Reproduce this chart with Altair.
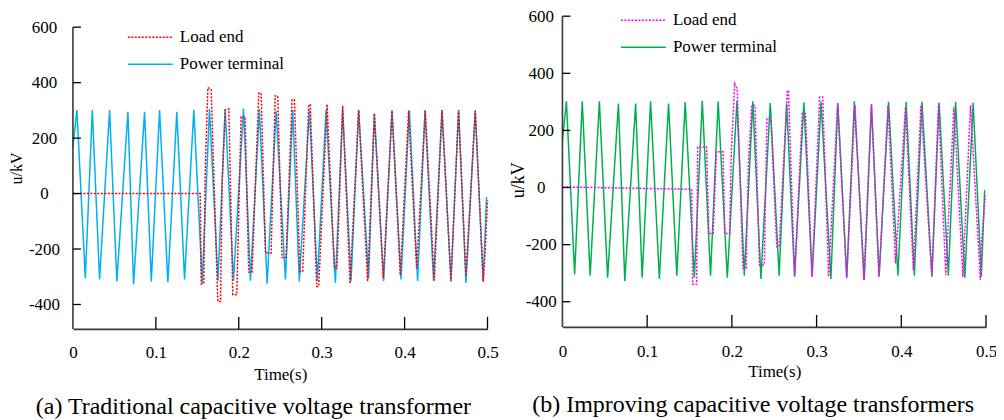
import altair as alt
import pandas as pd

LE = "Load end"
PT = "Power terminal"
FONT = "Liberation Serif"

# ---------------- (a) traditional CVT ----------------
a_pt_t = [0, .0048, .0149, .0234, .0321, .0442, .0530, .0663, .0731, .0864, .0945, .1045, .1145,
          .1253, .1346, .1458, .1559, .1647, .1750, .1836, .1936, .2057, .2141, .2249, .2342,
          .2451, .2563, .2651, .2730, .2852, .2948, .3053, .3165, .3253, .3354, .3446, .3566,
          .3635, .3747, .3848, .3957, .4057, .4157, .4246, .4349, .4451, .4559, .4651, .4740,
          .4852, .4948, .4988]
a_pt_v = [169, 301, -305, 301, -310, 301, -317, 295, -328, 295, -317, 301, -320,
          295, -310, 301, -322, 305, -315, 305, -314, 307, -314, 305, -325,
          298, -310, 301, -317, 301, -315, 301, -322, 298, -315, 301, -305,
          289, -315, 301, -310, 301, -315, 298, -315, 301, -315, 301, -322,
          301, -318, -12]

a_le_t = [0, .1535, .1547, .1578, .1595, .1627, .1667, .1747, .1780, .1800, .1836, .1880,
          .1928, .1976, .2028, .2076, .2120, .2161, .2241, .2270, .2322, .2390, .2439, .2470,
          .2523, .2571, .2643, .2671, .2739, .2771, .2843, .2863, .2940, .2964, .3065,
          .3153, .3185, .3253, .3342, .3446, .3554, .3635, .3743, .3848, .3948, .4048,
          .4145, .4249, .4358, .4451, .4559, .4651, .4740, .4852, .4948, .4972, .5000]
a_le_v = [0, 0, -325, -325, 72, 382, 375, -389, -389, 36, 301, 305,
          -365, -365, 277, 277, -283, -283, 362, 362, -214, -214, 352, 352,
          -231, -231, 338, 338, -281, -281, 320, 320, -335, -335, 322,
          -269, -269, 316, -325, 301, -317, 289, -305, 298, -295, 298,
          -271, 301, -313, 301, -317, 301, -298, 298, -317, -205, -24]

# ---------------- (b) improved CVT ----------------
b_pt_t = [0, .0047, .0144, .0234, .0327, .0436, .0533, .0661, .0736, .0864, .0941, .1040, .1144,
          .1253, .1350, .1449, .1557, .1651, .1748, .1838, .1946, .2060, .2147, .2247, .2343,
          .2453, .2558, .2647, .2740, .2850, .2947, .3053, .3169, .3251, .3356, .3446, .3563,
          .3648, .3738, .3850, .3960, .4057, .4154, .4244, .4361, .4446, .4556, .4641, .4750,
          .4848, .4945, .4984]
b_pt_v = [166, 302, -304, 302, -309, 302, -316, 294, -327, 294, -316, 302, -320,
          294, -309, 299, -316, 304, -309, 302, -316, 304, -309, 302, -320,
          296, -309, 294, -312, 298, -312, 300, -320, 296, -316, 302, -324,
          292, -312, 300, -309, 300, -309, 300, -312, 297, -309, 300, -316,
          297, -312, -9]

b_le_t = [0, .1526, .1537, .1584, .1596, .1701, .1729, .1779, .1818, .1896, .1916, .1974,
          .1993, .2033, .2063, .2130, .2168, .2196, .2235, .2273, .2325, .2383, .2414, .2460,
          .2530, .2558, .2655, .2667, .2741, .2831, .2869, .2947, .3037, .3072, .3142, .3248,
          .3356, .3453, .3558, .3648, .3738, .3843, .3932, .4049, .4142, .4232, .4361, .4439,
          .4525, .4621, .4727, .4817, .4933, .4945, .4992]
b_le_v = [2, -6, -339, -339, 142, 142, -161, -161, 125, 125, -161, -161,
          119, 364, 346, -283, -283, 90, 288, 288, -271, -271, 241, 241,
          -207, -207, 340, 340, -309, 259, 259, -312, 317, 317, -312, 294,
          -316, 288, -324, 288, -312, 288, -266, 282, -289, 288, -312, 294,
          -306, 282, -312, 288, -324, -201, -27]

y_ticks = [-400, -200, 0, 200, 400, 600]
x_ticks = [0, 0.1, 0.2, 0.3, 0.4, 0.5]
y_axis_span = [600, -488]
captions = ["(a) Traditional capacitive voltage transformer",
            "(b) Improving capacitive voltage transformers"]


def make_panel(pt_t, pt_v, le_t, le_v, le_color, pt_color, caption, g):
    w, h = g["w"], g["h"]
    pt_df = pd.DataFrame({"t": pt_t, "u": pt_v, "series": PT})
    le_df = pd.DataFrame({"t": le_t, "u": le_v, "series": LE})
    xs = alt.Scale(domain=[0, 0.5], nice=False, zero=False)
    ys = alt.Scale(domain=[-488, g["ytop"]], nice=False, zero=False)
    legend = alt.Legend(orient="none", legendX=g["lx"], legendY=g["ly"], title=None,
                        direction="vertical", symbolType="M-3,0H3", symbolSize=225,
                        symbolStrokeWidth=1.5, labelFont=FONT, labelFontSize=17,
                        labelColor="black", labelOffset=21, rowPadding=9, padding=0,
                        labelLimit=0)
    color = alt.Color("series:N", scale=alt.Scale(domain=[LE, PT], range=[le_color, pt_color]),
                      legend=legend)
    dash = alt.StrokeDash("series:N", scale=alt.Scale(domain=[LE, PT], range=[[2, 1.5], [1, 0]]),
                          legend=legend)
    xaxis = alt.Axis(values=x_ticks, labelExpr="datum.value == 0 ? '0' : format(datum.value, '.1f')",
                     ticks=False, tickSize=0, labelPadding=g["xlp"], labelFlush=False,
                     labelFontSize=17, domainColor="#3a3a3a", domainWidth=1.6,
                     title="Time(s)", titleFontSize=17, titlePadding=g["xtp"],
                     titleFontWeight="normal")
    yaxis = alt.Axis(values=y_ticks,
                     labelExpr="datum.value < 0 ? '-' + abs(datum.value) : '' + datum.value",
                     ticks=False, tickSize=0, labelPadding=g["ylp"], labelAlign="center",
                     labelFontSize=17, domain=False,
                     title="u/kV", titleFontSize=g["ytfs"], titleFontWeight="normal",
                     titleX=g["ytx"], titleY=g["yty"], titleAngle=270, titleBaseline="middle",
                     titleAlign="center")
    X = alt.X("t:Q", scale=xs, axis=xaxis)
    Y = alt.Y("u:Q", scale=ys, axis=yaxis)
    power = alt.Chart(pt_df).mark_line(strokeWidth=1.5).encode(
        x=X, y=Y, color=color, strokeDash=dash)
    load = alt.Chart(le_df).mark_line(strokeWidth=1.5).encode(
        x=X, y=Y, color=color, strokeDash=dash)
    yline = alt.Chart(pd.DataFrame({"u": [y_axis_span[0]], "u2": [y_axis_span[1]]})).mark_rule(
        color="#3a3a3a", strokeWidth=1.6).encode(y=Y, y2="u2:Q", x=alt.value(0))
    yt = alt.Chart(pd.DataFrame({"u": y_ticks})).mark_rule(color="black", strokeWidth=1.3).encode(
        y=Y, x=alt.value(0), x2=alt.value(8))
    xt = alt.Chart(pd.DataFrame({"t": x_ticks[1:]})).mark_rule(color="black", strokeWidth=1.3).encode(
        x=X, y=alt.value(h), y2=alt.value(h - 12))
    return alt.layer(power, load, yline, yt, xt).properties(
        width=w, height=h,
        title=alt.TitleParams(text=caption, orient="bottom", font=FONT, fontSize=24,
                              fontWeight="normal", color="black", offset=13, anchor="middle",
                              frame="bounds"))


ga = dict(w=415, h=313, ytop=639.6, lx=54.7 + 14.25, ly=12.5, xlp=15.3, xtp=6, ylp=29, ytfs=16,
          ytx=-56.3, yty=152)
gb = dict(w=424, h=311, ytop=600, lx=58.3 + 14.25, ly=-4.5, xlp=17, xtp=4, ylp=21.7, ytfs=18,
          ytx=-43.7, yty=163.7)

left = make_panel(a_pt_t, a_pt_v, a_le_t, a_le_v, "#ff0000", "#00b0f0", captions[0], ga)
right = make_panel(b_pt_t, b_pt_v, b_le_t, b_le_v, "#ff00ff", "#00b050", captions[1], gb)

chart = alt.hconcat(left, right, spacing=11).resolve_scale(
    color="independent", strokeDash="independent", x="independent", y="independent"
).resolve_legend(color="independent", strokeDash="independent").properties(
    padding={"left": 0, "top": -1, "right": -1, "bottom": 0}
).configure_view(stroke=None).configure_axis(
    labelFont=FONT, titleFont=FONT, labelColor="black", titleColor="black", grid=False
)

chart.save("out.html", embed_options={"renderer": "svg", "actions": False})
